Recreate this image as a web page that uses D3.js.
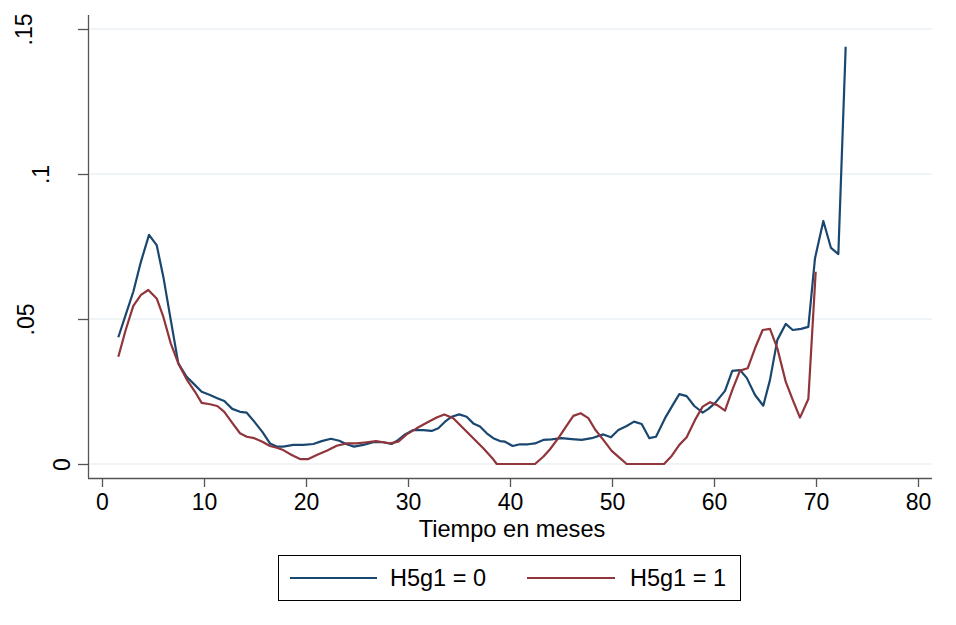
<!DOCTYPE html>
<html><head><meta charset="utf-8">
<script src="https://cdn.jsdelivr.net/npm/d3@7"></script>
<style>
html,body{margin:0;padding:0;background:#fff;}
svg{display:block;font-family:"Liberation Sans",Arial,sans-serif;}
</style></head>
<body>
<svg id="chart" width="956" height="625"></svg>
<script>
// [month, hazard] for H5g1 = 0
const seriesH0 = [[1.60,0.0437],[2.32,0.0514],[3.07,0.0594],[3.82,0.0698],[4.61,0.0790],[5.36,0.0755],[6.01,0.0646],[6.74,0.0497],[7.48,0.0347],[8.30,0.0301],[9.12,0.0272],[9.77,0.0249],[10.59,0.0238],[11.30,0.0227],[11.99,0.0217],[12.77,0.0190],[13.53,0.0180],[14.19,0.0177],[14.93,0.0146],[15.72,0.0111],[16.47,0.0071],[17.13,0.0060],[17.77,0.0060],[18.75,0.0066],[19.74,0.0066],[20.72,0.0069],[21.54,0.0079],[22.45,0.0087],[23.26,0.0080],[23.99,0.0068],[24.71,0.0060],[25.62,0.0066],[26.60,0.0075],[27.58,0.0075],[28.40,0.0069],[29.05,0.0083],[29.71,0.0102],[30.52,0.0117],[31.50,0.0117],[32.32,0.0114],[32.97,0.0123],[33.63,0.0146],[34.28,0.0163],[35.03,0.0171],[35.75,0.0163],[36.40,0.0140],[37.06,0.0129],[37.72,0.0106],[38.36,0.0089],[39.02,0.0079],[39.51,0.0077],[40.26,0.0062],[40.98,0.0068],[41.79,0.0068],[42.45,0.0071],[43.26,0.0083],[44.09,0.0085],[45.07,0.0089],[46.05,0.0086],[47.03,0.0083],[48.01,0.0089],[49.15,0.0102],[49.90,0.0092],[50.62,0.0117],[51.44,0.0131],[52.16,0.0146],[52.91,0.0138],[53.66,0.0089],[54.31,0.0094],[55.20,0.0158],[55.95,0.0203],[56.60,0.0241],[57.32,0.0234],[58.07,0.0200],[58.89,0.0177],[59.45,0.0190],[60.10,0.0210],[61.08,0.0252],[61.79,0.0321],[62.55,0.0324],[63.21,0.0297],[64.02,0.0238],[64.83,0.0201],[65.49,0.0290],[66.21,0.0428],[67.03,0.0483],[67.72,0.0462],[68.53,0.0466],[69.25,0.0473],[69.90,0.0709],[70.72,0.0838],[71.47,0.0745],[72.19,0.0724],[72.91,0.1439]];
// [month, hazard] for H5g1 = 1
const seriesH1 = [[1.60,0.0370],[2.32,0.0462],[3.07,0.0545],[3.82,0.0583],[4.54,0.0600],[5.36,0.0571],[6.01,0.0508],[6.74,0.0416],[7.48,0.0347],[8.30,0.0292],[9.12,0.0249],[9.77,0.0211],[10.59,0.0206],[11.30,0.0200],[11.99,0.0180],[12.77,0.0142],[13.53,0.0106],[14.19,0.0094],[14.93,0.0089],[15.72,0.0077],[16.47,0.0062],[17.13,0.0056],[17.77,0.0048],[18.60,0.0031],[19.41,0.0017],[20.23,0.0017],[21.05,0.0031],[22.03,0.0046],[23.01,0.0063],[23.99,0.0071],[24.97,0.0071],[25.95,0.0075],[26.86,0.0079],[27.58,0.0075],[28.24,0.0071],[29.05,0.0077],[29.87,0.0102],[30.85,0.0123],[31.83,0.0142],[32.81,0.0160],[33.56,0.0171],[34.44,0.0158],[35.42,0.0123],[36.40,0.0089],[37.38,0.0054],[38.36,0.0016],[38.70,0],[42.45,0],[43.26,0.0025],[43.92,0.0051],[44.74,0.0089],[45.49,0.0129],[46.21,0.0166],[46.93,0.0175],[47.68,0.0158],[48.33,0.0120],[49.15,0.0083],[49.97,0.0045],[50.78,0.0020],[51.44,0],[55.10,0],[55.85,0.0028],[56.60,0.0066],[57.32,0.0092],[58.14,0.0152],[58.89,0.0198],[59.61,0.0213],[60.32,0.0203],[61.08,0.0184],[61.79,0.0255],[62.55,0.0322],[63.30,0.0330],[64.02,0.0399],[64.77,0.0462],[65.49,0.0466],[66.21,0.0399],[67.03,0.0284],[67.72,0.0221],[68.43,0.0160],[69.25,0.0224],[69.97,0.0663]];
const xTicks = [0,10,20,30,40,50,60,70,80];
const yTicks = [0,0.05,0.1,0.15];
const yTickLabels = ["0",".05",".1",".15"];
const legendLabels = ["H5g1 = 0","H5g1 = 1"];
const xTitle = "Tiempo en meses";

const colors = ["#1a476f","#90353b"];
const FS = 23;
const svg = d3.select("#chart");
const pLeft = 88, pRight = 932, pTop = 15, pBottom = 478;

const x = d3.scaleLinear().domain([0,80]).range([102,918]);
const y = d3.scaleLinear().domain([0,0.15]).range([464,29]);

// gridlines
svg.append("g").selectAll("line").data(yTicks).join("line")
  .attr("x1", pLeft).attr("x2", pRight)
  .attr("y1", d=>y(d)).attr("y2", d=>y(d))
  .attr("stroke","#eaf2f3").attr("stroke-width",1.5);

// lines
const line = d3.line().x(d=>x(d[0])).y(d=>y(d[1]));
[seriesH0, seriesH1].forEach((s,i)=>{
  svg.append("path").datum(s).attr("d", line)
    .attr("fill","none").attr("stroke",colors[i]).attr("stroke-width",2.2)
    .attr("stroke-linejoin","round");
});

// x axis
const gx = svg.append("g").attr("transform",`translate(0,${pBottom})`)
  .call(d3.axisBottom(x).tickValues(xTicks).tickSize(9).tickSizeOuter(0).tickFormat(d3.format("d")));
gx.select(".domain").attr("d",`M${pLeft},0.5H${pRight}`).attr("stroke","#555").attr("stroke-width",1.3);
gx.selectAll(".tick line").attr("stroke","#555").attr("stroke-width",1.3);
gx.selectAll(".tick text").attr("font-size",FS).attr("font-family","Liberation Sans, Arial, sans-serif")
  .attr("fill","#000").attr("y",16).attr("dy","0.71em");

// y axis
const labelBaseX = [70, 34, 49, 32];
const gy = svg.append("g").attr("transform",`translate(${pLeft},0)`)
  .call(d3.axisLeft(y).tickValues(yTicks).tickSize(10).tickSizeOuter(0).tickFormat((d,i)=>yTickLabels[i]));
gy.select(".domain").attr("d",`M0.5,${pTop}V${pBottom}`).attr("stroke","#555").attr("stroke-width",1.3);
gy.selectAll(".tick line").attr("stroke","#555").attr("stroke-width",1.3);
gy.selectAll(".tick text").each(function(d,i){
  d3.select(this).attr("x",null).attr("dy",null).attr("text-anchor","middle")
    .attr("transform",`translate(${labelBaseX[i]-pLeft},0) rotate(-90)`)
    .attr("font-size",FS).attr("font-family","Liberation Sans, Arial, sans-serif").attr("fill","#000");
});

// x title
svg.append("text").attr("x",512).attr("y",537).attr("text-anchor","middle")
  .attr("font-size",23.6).text(xTitle);

// legend
const lg = svg.append("g");
lg.append("rect").attr("x",278.5).attr("y",555.5).attr("width",462).attr("height",45)
  .attr("fill","#fff").attr("stroke","#000").attr("stroke-width",1);
const legX = [[290,377,390],[527,615,630]];
legendLabels.forEach((lab,i)=>{
  lg.append("line").attr("x1",legX[i][0]).attr("x2",legX[i][1]).attr("y1",578).attr("y2",578)
    .attr("stroke",colors[i]).attr("stroke-width",2.2);
  lg.append("text").attr("x",legX[i][2]).attr("y",586).attr("font-size",23.5).text(lab);
});
</script>
</body></html>
